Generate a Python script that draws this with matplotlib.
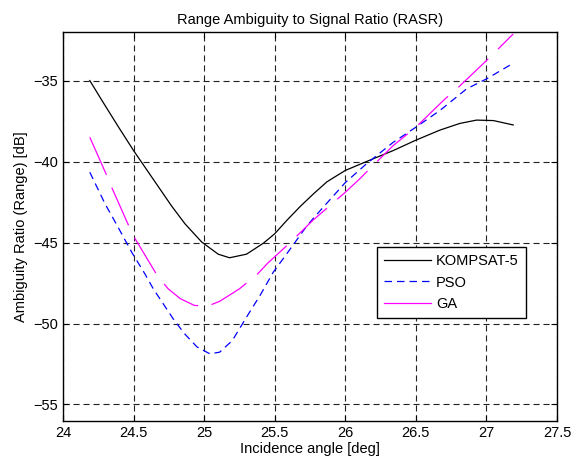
import matplotlib
matplotlib.use("Agg")
import matplotlib.pyplot as plt
from matplotlib.ticker import FuncFormatter

plt.rcParams['font.family'] = ['Liberation Sans', 'DejaVu Sans']

kompsat_x = [24.19, 24.274, 24.392, 24.5, 24.629, 24.77, 24.865, 24.983, 25.1, 25.18, 25.3,
             25.42, 25.5, 25.585, 25.68, 25.774, 25.87, 26.0, 26.15, 26.34, 26.5, 26.67,
             26.81, 26.93, 27.05, 27.19]
kompsat_y = [-35.0, -36.2, -37.85, -39.32, -40.96, -42.75, -43.85, -44.97, -45.72, -45.94, -45.72,
             -45.04, -44.46, -43.64, -42.78, -42.0, -41.25, -40.55, -40.0, -39.32, -38.68, -38.06,
             -37.65, -37.44, -37.47, -37.74]

pso_x = [24.19, 24.298, 24.39, 24.487, 24.58, 24.64, 24.78, 24.86, 24.95, 25.04, 25.11, 25.2,
         25.3, 25.396, 25.49, 25.585, 25.73, 25.774, 26.0, 26.15, 26.34, 26.5, 26.67, 26.86,
         27.0, 27.19]
pso_y = [-40.66, -42.61, -44.05, -45.6, -46.93, -47.86, -49.7, -50.62, -51.45, -51.87, -51.77,
         -51.05, -49.61, -48.27, -46.83, -45.7, -43.95, -43.5, -41.3, -40.14, -38.81, -37.88,
         -36.85, -35.51, -34.9, -33.93]

ga_x = [24.19, 24.31, 24.35, 24.47, 24.51, 24.675, 24.746, 24.83, 24.93, 25.02, 25.11, 25.25,
        25.38, 25.45, 25.6, 25.774, 26.0, 26.09, 26.34, 26.5, 26.707, 26.79, 27.02, 27.19]
ga_y = [-38.5, -40.86, -41.69, -44.05, -44.75, -47.14, -47.86, -48.46, -48.88, -48.94, -48.63,
        -47.86, -46.93, -46.28, -45.08, -43.6, -41.9, -41.17, -39.01, -37.88, -36.13, -35.51,
        -33.6, -32.12]

x_ticks = [24, 24.5, 25, 25.5, 26, 26.5, 27, 27.5]
y_ticks = [-55, -50, -45, -40, -35]

fig = plt.figure(figsize=(5.8, 4.65), dpi=100)
ax = fig.add_axes([0.1086, 0.0953, 0.8517, 0.8359])

ax.plot(kompsat_x, kompsat_y, color='black', lw=0.9, label='KOMPSAT-5')
ax.plot(pso_x, pso_y, color='blue', lw=0.9, linestyle=(0, (6.0, 4.0)), label='PSO')
ax.plot(ga_x, ga_y, color='magenta', lw=0.9, linestyle=(0, (33, 11)), label='GA')

ax.set_xlim(24, 27.5)
ax.set_ylim(-56, -32)
ax.set_xticks(x_ticks)
ax.set_yticks(y_ticks)
ax.xaxis.set_major_formatter(FuncFormatter(lambda v, p: ('%g' % v)))
ax.grid(True, color='#222222', linestyle=(0, (5.5, 3.5)), linewidth=0.8)
ax.tick_params(direction='in', top=True, right=True, length=4, labelsize=10.5, colors='black')
for s in ax.spines.values():
    s.set_linewidth(1.0)

ax.set_title('Range Ambiguity to Signal Ratio (RASR)', fontsize=10.5, pad=6)
ax.set_xlabel('Incidence angle [deg]', fontsize=10.5, labelpad=2)
ax.set_ylabel('Ambiguity Ratio (Range) [dB]', fontsize=10.5, labelpad=4)

leg = ax.legend(loc='upper left', bbox_to_anchor=(0.636, 0.447), fontsize=10.5,
                handlelength=3.2, handletextpad=0.35, borderpad=0.5, labelspacing=0.5,
                borderaxespad=0.0, fancybox=False, framealpha=1, edgecolor='black')
leg.get_frame().set_linewidth(1.0)
leg.get_lines()[2].set_linestyle('-')

fig.savefig('out.png', dpi=100)
